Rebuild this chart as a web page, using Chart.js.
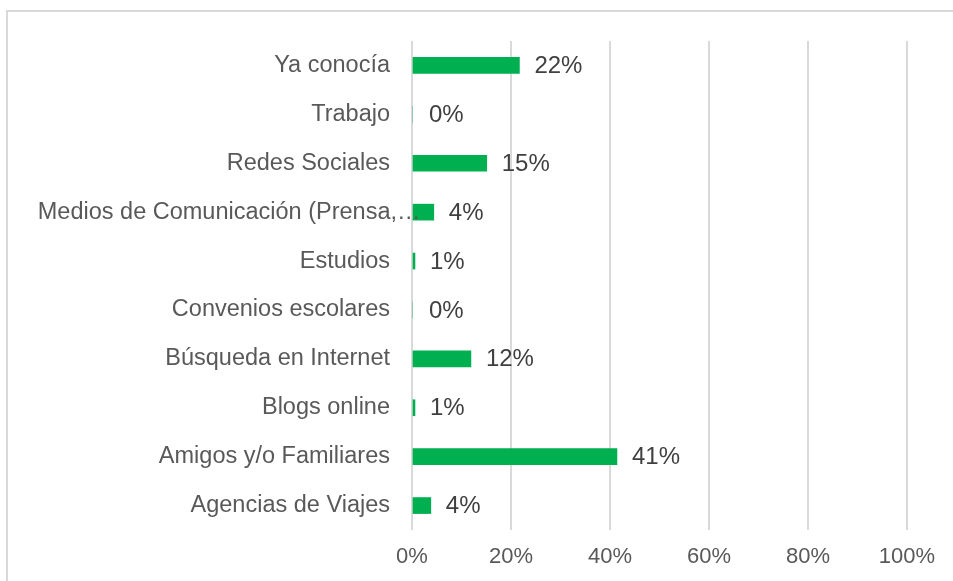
<!DOCTYPE html>
<html>
<head>
<meta charset="utf-8">
<script src="https://cdn.jsdelivr.net/npm/chart.js@4"></script>
<style>
  html, body { margin: 0; padding: 0; background: #fff; overflow: hidden; }
  #frame {
    position: absolute; left: 6px; top: 10px; width: 1000px; height: 700px;
    border-left: 2px solid #d9d9d9; border-top: 2px solid #d9d9d9;
  }
  #chart { position: absolute; left: 0; top: 0; }
</style>
</head>
<body>
<div id="frame"></div>
<canvas id="chart" width="953" height="581"></canvas>
<script>
/* ---- Data ---- */
const categories = [
  'Ya conocía',
  'Trabajo',
  'Redes Sociales',
  'Medios de Comunicación (Prensa,…',
  'Estudios',
  'Convenios escolares',
  'Búsqueda en Internet',
  'Blogs online',
  'Amigos y/o Familiares',
  'Agencias de Viajes',
];
const shares = [21.7, 0, 15.1, 4.4, 0.6, 0, 11.9, 0.6, 41.4, 3.8];
const xTicks = [0, 20, 40, 60, 80, 100];

const FONT = '"Liberation Sans", Arial, sans-serif';
const GREEN = '#00b050';

/* ---- Category labels: truncated ones let the "…" hang past the edge ---- */
const categoryLabels = {
  id: 'categoryLabels',
  afterDraw(chart) {
    const ctx = chart.ctx;
    const y = chart.scales.y;
    const edge = y.right - 22;
    ctx.save();
    ctx.font = '23.5px ' + FONT;
    ctx.fillStyle = '#595959';
    ctx.textBaseline = 'middle';
    categories.forEach((label, i) => {
      const py = y.getPixelForTick(i);
      if (label.endsWith('…')) {
        const head = label.slice(0, -1);
        ctx.textAlign = 'right';
        ctx.fillText(head, edge + 7, py);
        ctx.textAlign = 'left';
        ctx.fillText('…', edge + 7, py);
      } else {
        ctx.textAlign = 'right';
        ctx.fillText(label, edge, py);
      }
    });
    ctx.restore();
  }
};

/* ---- Value labels drawn after the bars ---- */
const valueLabels = {
  id: 'valueLabels',
  afterDatasetsDraw(chart) {
    const ctx = chart.ctx;
    const meta = chart.getDatasetMeta(0);
    ctx.save();
    ctx.font = '24px ' + FONT;
    ctx.fillStyle = '#404040';
    ctx.textAlign = 'left';
    ctx.textBaseline = 'middle';
    meta.data.forEach((bar, i) => {
      // empty bars get a little more room, like the original
      const gap = shares[i] > 0 ? 15 : 17;
      ctx.fillText(Math.round(shares[i]) + '%', bar.x + gap, bar.y + 1);
    });
    ctx.restore();
  }
};

new Chart(document.getElementById('chart'), {
  type: 'bar',
  data: {
    labels: categories,
    datasets: [{
      data: shares,
      backgroundColor: GREEN,
      borderWidth: 0,
      barThickness: 16,
    }]
  },
  options: {
    indexAxis: 'y',
    responsive: false,
    animation: false,
    devicePixelRatio: 1,
    layout: { padding: { top: 41, right: 46, bottom: 0, left: 0 } },
    plugins: { legend: { display: false }, tooltip: { enabled: false } },
    scales: {
      x: {
        min: 0,
        max: 100,
        afterBuildTicks(scale) { scale.ticks = xTicks.map(v => ({ value: v })); },
        afterFit(scale) { scale.height = 51; },
        border: { display: false },
        grid: { color: '#d9d9d9', lineWidth: 2, drawTicks: false },
        ticks: {
          padding: 14,
          color: '#595959',
          font: { family: FONT, size: 22 },
          callback: v => v + '%',
        }
      },
      y: {
        afterFit(scale) { scale.width = 412; },
        border: { display: false },
        grid: { display: false, drawTicks: false },
        ticks: { display: false, autoSkip: false }
      }
    }
  },
  plugins: [valueLabels, categoryLabels]
});
</script>
</body>
</html>
